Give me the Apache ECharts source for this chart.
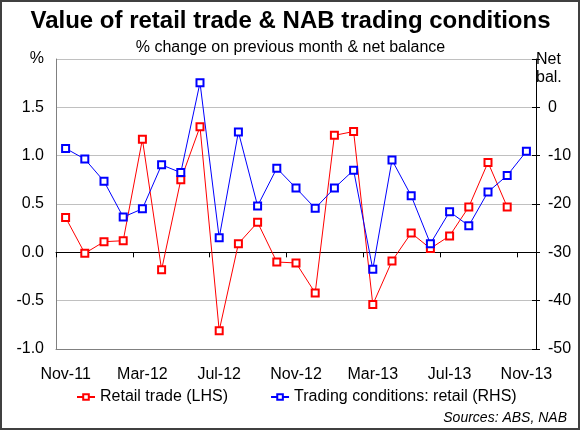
<!DOCTYPE html>
<html>
<head>
<meta charset="utf-8">
<script src="https://cdn.jsdelivr.net/npm/echarts@6/dist/echarts.min.js"></script>
<style>
html,body{margin:0;padding:0;background:#fff;}
#chart{width:581px;height:432px;}
</style>
</head>
<body>
<div id="chart"></div>
<script>
var months = ['Nov-11','Dec-11','Jan-12','Feb-12','Mar-12','Apr-12','May-12','Jun-12','Jul-12','Aug-12','Sep-12','Oct-12',
  'Nov-12','Dec-12','Jan-13','Feb-13','Mar-13','Apr-13','May-13','Jun-13','Jul-13','Aug-13','Sep-13','Oct-13','Nov-13'];
var retailTrade = [0.36, -0.01, 0.11, 0.12, 1.17, -0.18, 0.75, 1.30, -0.81, 0.09, 0.31, -0.10,
  -0.11, -0.42, 1.21, 1.25, -0.54, -0.09, 0.20, 0.04, 0.17, 0.47, 0.93, 0.47, null];
var tradingConditions = [-8.5, -10.7, -15.3, -22.7, -21.0, -11.9, -13.5, 5.1, -27.0, -5.1, -20.4, -12.6,
  -16.7, -20.9, -16.7, -13.0, -33.5, -10.9, -18.3, -28.2, -21.6, -24.5, -17.5, -14.1, -9.1];
var leftTicks = {min: -1, max: 2, interval: 0.5};
var rightTicks = {min: -50, max: 10, interval: 10};

var FONT = 'Liberation Sans, Arial, sans-serif';
var chart = echarts.init(document.getElementById('chart'), null, {renderer: 'canvas'});
var option = {
  animation: false,
  backgroundColor: '#fff',
  textStyle: {fontFamily: FONT, color: '#000'},
  title: [
    {text: 'Value of retail trade & NAB trading conditions', left: 'center', top: 4,
     textStyle: {fontFamily: FONT, fontSize: 24, fontWeight: 'bold', color: '#000'}},
    {text: '% change on previous month & net balance', left: 'center', top: 35,
     textStyle: {fontFamily: FONT, fontSize: 16, fontWeight: 'normal', color: '#000'}},
    {text: 'Sources: ABS, NAB', right: 9, top: 406,
     textStyle: {fontFamily: FONT, fontSize: 14, fontStyle: 'italic', fontWeight: 'normal', color: '#000'}}
  ],
  graphic: [{type: 'rect', shape: {x: 1, y: 1, width: 578, height: 428},
    style: {fill: 'none', stroke: '#404040', lineWidth: 2}, z: 100}],
  legend: {
    top: 384, left: 71, itemGap: 42, itemWidth: 18, itemHeight: 7,
    textStyle: {fontFamily: FONT, fontSize: 16, color: '#000'},
    data: ['Retail trade (LHS)', 'Trading conditions: retail (RHS)']
  },
  grid: {left: 56, right: 45, top: 59, bottom: 83, containLabel: false},
  xAxis: [
    {type: 'category', data: months, boundaryGap: true,
     axisLine: {show: true, onZero: true, onZeroAxisIndex: 0, lineStyle: {color: '#000', width: 1}},
     axisTick: {show: true, length: 5, interval: function (i) { return i % 4 === 0; }, lineStyle: {color: '#000'}},
     axisLabel: {show: false}, splitLine: {show: false}},
    {type: 'category', data: months, boundaryGap: true, position: 'bottom',
     axisLine: {show: true, onZero: false, lineStyle: {color: '#808080', width: 1}},
     axisTick: {show: false},
     axisLabel: {show: true, interval: 3, margin: 18, fontSize: 16, fontFamily: FONT, color: '#000'},
     splitLine: {show: false}}
  ],
  yAxis: [
    {type: 'value', position: 'left', min: leftTicks.min, max: leftTicks.max, interval: leftTicks.interval,
     axisLine: {show: true, lineStyle: {color: '#808080'}},
     axisTick: {show: false},
     axisLabel: {margin: 12, fontSize: 16, fontFamily: FONT, color: '#000',
       formatter: function (v) { return v === 2 ? '%' : v.toFixed(1); }},
     splitLine: {show: true, lineStyle: {color: '#C0C0C0', width: 1}}},
    {type: 'value', position: 'right', min: rightTicks.min, max: rightTicks.max, interval: rightTicks.interval,
     name: 'Net\nbal.', nameLocation: 'end', nameGap: -10,
     nameTextStyle: {fontFamily: FONT, fontSize: 16, color: '#000', align: 'left', verticalAlign: 'middle', lineHeight: 18},
     axisLine: {show: true, lineStyle: {color: '#000'}},
     axisTick: {show: true, length: 4, inside: false, lineStyle: {color: '#000'}},
     axisLabel: {margin: 12, fontSize: 16, fontFamily: FONT, color: '#000',
       formatter: function (v) { return v === 10 ? '' : String(v); }},
     splitLine: {show: false}},
    {type: 'value', position: 'right', min: rightTicks.min, max: rightTicks.max, interval: rightTicks.interval,
     axisLine: {show: false},
     axisTick: {show: true, length: 4, inside: true, lineStyle: {color: '#000'}},
     axisLabel: {show: false}, splitLine: {show: false}}
  ],
  series: [
    {name: 'Retail trade (LHS)', type: 'line', xAxisIndex: 0, yAxisIndex: 0, data: retailTrade,
     symbol: 'emptyRect', symbolSize: 7, connectNulls: false,
     lineStyle: {color: '#FF0000', width: 1}, itemStyle: {color: '#FF0000', borderWidth: 1}, z: 3},
    {name: 'Trading conditions: retail (RHS)', type: 'line', xAxisIndex: 0, yAxisIndex: 1, data: tradingConditions,
     symbol: 'emptyRect', symbolSize: 7,
     lineStyle: {color: '#0000FF', width: 1}, itemStyle: {color: '#0000FF', borderWidth: 1}, z: 4}
  ]
};
chart.setOption(option);
</script>
</body>
</html>
